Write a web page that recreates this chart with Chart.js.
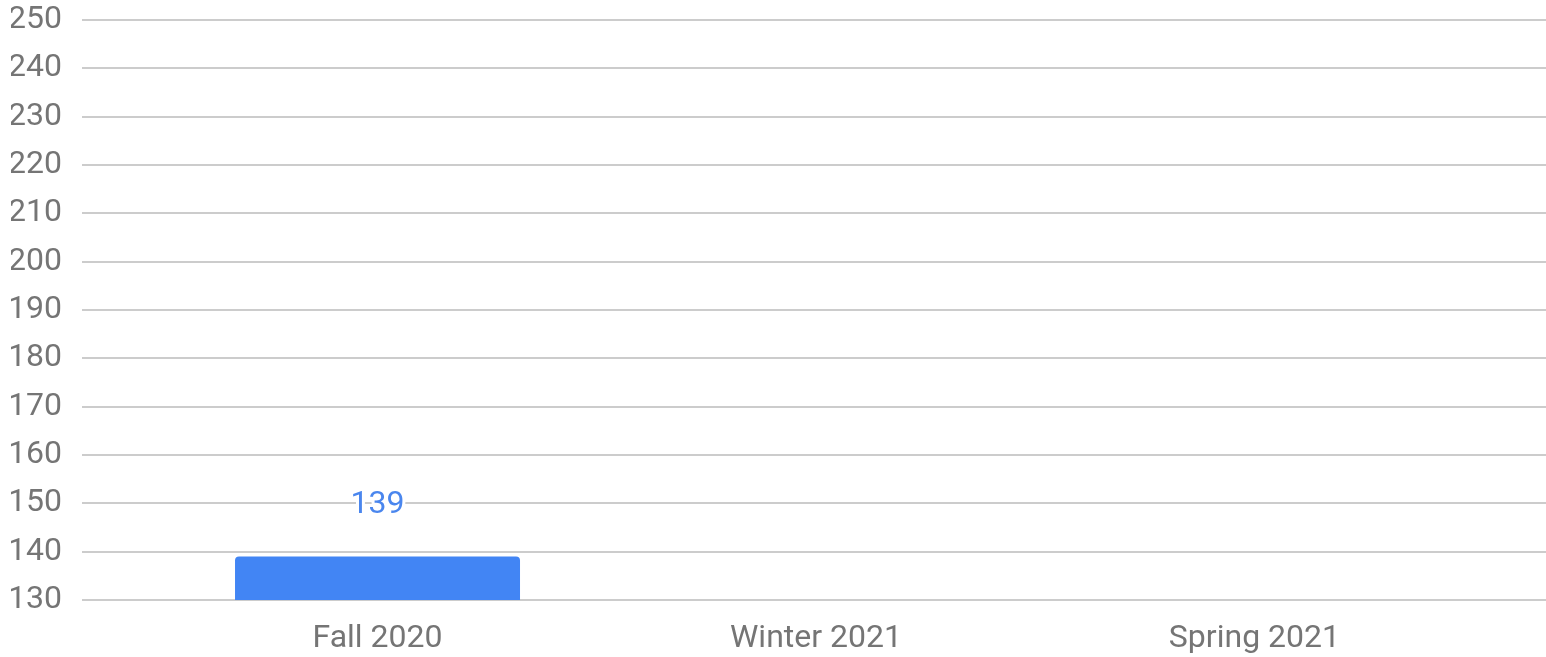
<!DOCTYPE html>
<html>
<head>
<meta charset="utf-8">
<script src="https://cdn.jsdelivr.net/npm/chart.js@4"></script>
<style>
  html, body { margin: 0; padding: 0; background: #ffffff; }
  #wrap { width: 1546px; height: 657px; position: relative; }
</style>
</head>
<body>
<div id="wrap"><canvas id="c"></canvas></div>
<script>
const categories = ['Fall 2020', 'Winter 2021', 'Spring 2021'];
const values = [139, null, null];
const yMin = 130;
const yMax = 250;
const yStep = 10;

const FONT = 'Roboto, "Noto Sans", sans-serif';

const points = categories.map((c, i) => ({ x: i, y: values[i] }));

const valueLabels = {
  id: 'valueLabels',
  afterDatasetsDraw(chart) {
    const ctx = chart.ctx;
    const meta = chart.getDatasetMeta(0);
    ctx.save();
    ctx.font = '32px ' + FONT;
    ctx.textAlign = 'center';
    ctx.textBaseline = 'middle';
    meta.data.forEach((bar, i) => {
      const v = values[i];
      if (v === null || v === undefined) return;
      const y = bar.y - 52;
      ctx.lineJoin = 'round';
      ctx.lineWidth = 6;
      ctx.strokeStyle = '#ffffff';
      ctx.strokeText(String(v), bar.x, y);
      ctx.fillStyle = '#4a86ee';
      ctx.fillText(String(v), bar.x, y);
    });
    ctx.restore();
  }
};

new Chart(document.getElementById('c'), {
  type: 'bar',
  data: {
    datasets: [{
      data: points,
      backgroundColor: '#4285f4',
      borderWidth: 0,
      borderRadius: 4,
      barPercentage: 0.65,
      categoryPercentage: 1.0
    }]
  },
  options: {
    responsive: true,
    maintainAspectRatio: false,
    animation: false,
    layout: { padding: { left: 11, right: 0, top: 20, bottom: 0 } },
    plugins: { legend: { display: false }, tooltip: { enabled: false } },
    scales: {
      x: {
        type: 'linear',
        offset: false,
        min: -0.674,
        max: 2.665,
        grid: { display: false, drawTicks: false },
        border: { display: false },
        afterBuildTicks(scale) {
          scale.ticks = categories.map((c, i) => ({ value: i }));
        },
        afterFit(scale) {
          scale.height = 57;
          scale.paddingLeft = 0;
          scale.paddingRight = 0;
        },
        ticks: {
          autoSkip: false,
          maxRotation: 0,
          padding: 20,
          color: '#757575',
          font: { family: FONT, size: 32 },
          callback: (v) => categories[v] !== undefined ? categories[v] : ''
        }
      },
      y: {
        min: yMin,
        max: yMax,
        grid: { color: '#cccccc', lineWidth: 2, drawTicks: false },
        border: { display: false },
        afterFit(scale) {
          scale.width = 71;
          scale.paddingTop = 0;
          scale.paddingBottom = 0;
        },
        ticks: {
          stepSize: yStep,
          padding: 20,
          color: '#757575',
          font: { family: FONT, size: 32 }
        }
      }
    }
  },
  plugins: [valueLabels]
});
</script>
</body>
</html>
